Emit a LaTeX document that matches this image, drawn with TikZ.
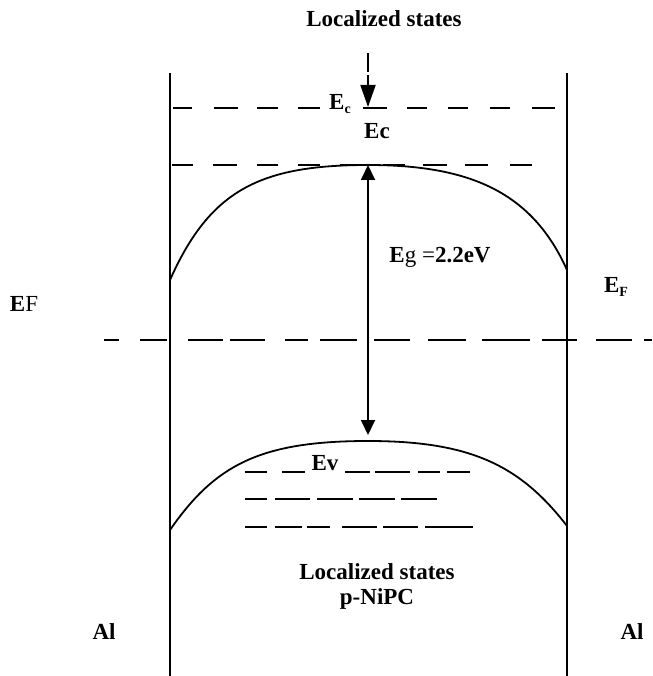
\documentclass[tikz,border=0pt]{standalone}
\usepackage{fontspec}
\setmainfont{Liberation Serif}
\usetikzlibrary{arrows.meta}
\newcommand{\mysub}[1]{\raisebox{-0.3ex}{\fontsize{14}{14}\selectfont #1}}
\tikzset{
  lbl/.style={font=\fontsize{23}{27}\selectfont\bfseries, inner sep=0pt, anchor=center},
  wall/.style={line width=1.8pt},
  band/.style={line width=1.8pt},
  lvl/.style={line width=1.2pt},
  tip/.style={-{Triangle[length=15pt,width=14pt]}},
}
\begin{document}
\begin{tikzpicture}[x=1pt,y=-1pt]
\useasboundingbox (0,0) rectangle (652,676);
\fill[white] (0,0) rectangle (652,676);

% walls
\coordinate (lt) at (170,73); \coordinate (lb) at (170,676);
\coordinate (rt) at (567,73); \coordinate (rb) at (567,676);
\draw[wall] (lt) -- (lb);
\draw[wall] (rt) -- (rb);

% dashed level at y=108
\foreach \a/\b in {173/192,214/238,257/278,298/320,363/387,407/427,448/468,490/510,532/555}
  \draw[lvl] (\a,108) -- (\b,108);
% dashed level at y=165
\foreach \a/\b in {172/193,213/237,257/278,298/320,340/363,383/405,423/447,465/488,510/532}
  \draw[lvl] (\a,165) -- (\b,165);
% Fermi level
\foreach \a/\b in {104/119,140/167,188/223,230/265,285/308,320/357,374/410,428/466,482/530,542/577,596/632,644/652}
  \draw[lvl] (\a,340) -- (\b,340);
% valence localized levels
\foreach \a/\b in {245/267,282/305,345/370,375/410,418/440,447/470}
  \draw[lvl] (\a,472) -- (\b,472);
\foreach \a/\b in {245/267,275/310,317/353,359/395,401/437}
  \draw[lvl] (\a,499) -- (\b,499);
\foreach \a/\b in {245/267,275/302,307/330,342/377,383/418,425/473}
  \draw[lvl] (\a,527) -- (\b,527);

% bands
\coordinate (cl) at (170,280); \coordinate (cp) at (368,165); \coordinate (cr) at (567,270);
\draw[band] (cl) .. controls (210,190) and (260,165) .. (cp)
            .. controls (470,165) and (532,192) .. (cr);
\coordinate (vl) at (170,530); \coordinate (vp) at (368,441); \coordinate (vr) at (567,526);
\draw[band] (vl) .. controls (215,465) and (260,441) .. (vp)
            .. controls (470,441) and (520,465) .. (vr);

% gap arrow
\coordinate (gtop) at (368,165); \coordinate (gbot) at (368,435);
\draw[band, {Triangle[length=15pt,width=14pt]}-{Triangle[length=15pt,width=14pt]}] (gtop) -- (gbot);

% top arrow
\coordinate (atop) at (368,53); \coordinate (atip) at (368,107);
\draw[band, dash pattern=on 19pt off 3pt, -{Triangle[length=22pt,width=15pt]}] (atop) -- (atip);

% labels
\node[lbl] (title) at (384,19) {Localized states};
\node[lbl] (ec1) at (340,104) {E\mysub{c}};
\node[lbl] (ec2) at (377,131) {Ec};
\node[lbl] (eg) at (440,257) {E\mdseries g =\bfseries 2.2eV};
\node[lbl] (efr) at (616,287) {E\mysub{F}};
\node[lbl] (efl) at (24,304) {E\mdseries F};
\node[lbl] (ev) at (325,463) {Ev};
\node[lbl] (loc2) at (377,572) {Localized states};
\node[lbl] (pni) at (377,599) {p-NiPC};
\node[lbl] (all) at (104,632) {Al};
\node[lbl] (alr) at (632,632) {Al};
\end{tikzpicture}
\end{document}
